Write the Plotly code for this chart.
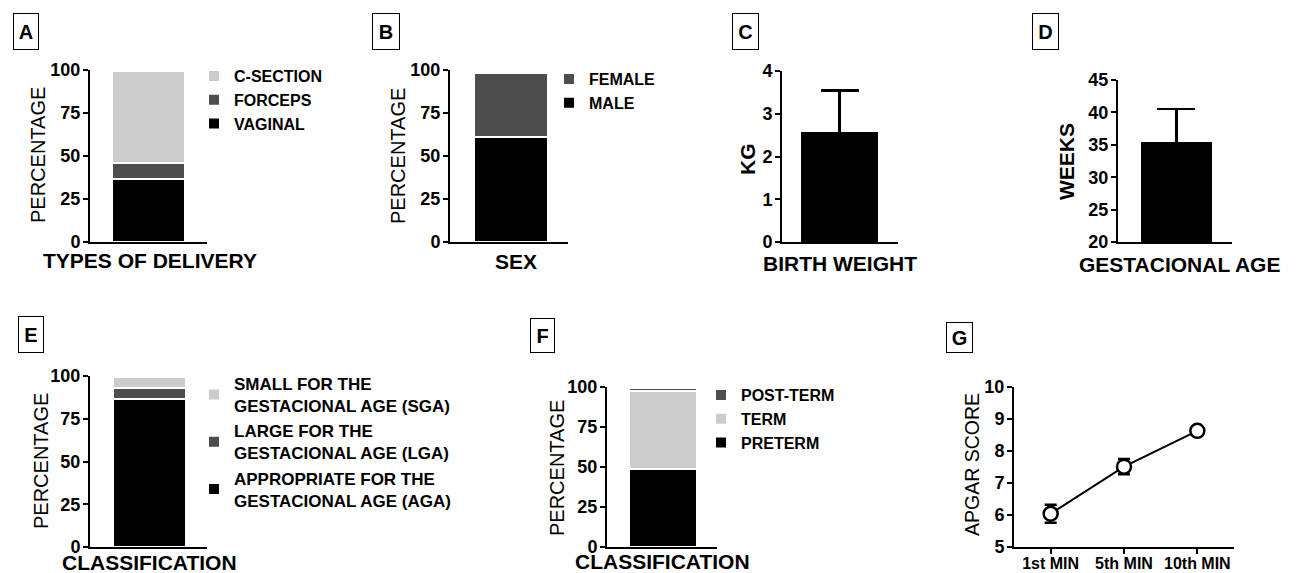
import plotly.graph_objects as go

W, H = 1307, 573

# ---------------- data ----------------
# A - types of delivery (%)
delivery_types = ["VAGINAL", "FORCEPS", "C-SECTION"]
delivery_pct = [36.4, 9.6, 53.4]
# B - sex (%)
sex_labels = ["MALE", "FEMALE"]
sex_pct = [61.3, 37.2]
# C - birth weight (kg)
birth_weight_mean = [2.56]
birth_weight_sd = [0.98]
# D - gestational age (weeks)
gest_age_mean = [35.3]
gest_age_sd = [5.2]
# E - size classification (%)
size_class = ["APPROPRIATE FOR THE<br>GESTACIONAL AGE (AGA)",
              "LARGE FOR THE<br>GESTACIONAL AGE (LGA)",
              "SMALL FOR THE<br>GESTACIONAL AGE (SGA)"]
size_pct = [86.3, 6.4, 6.9]
# F - term classification (%)
term_class = ["PRETERM", "TERM", "POST-TERM"]
term_pct = [48.6, 49.0, 1.6]
# G - APGAR score
apgar_times = ["1st MIN", "5th MIN", "10th MIN"]
apgar_mean = [6.04, 7.51, 8.63]
apgar_err = [0.28, 0.24, 0.05]

# tick values
pct_ticks = [0, 25, 50, 75, 100]
kg_ticks = [0, 1, 2, 3, 4]
week_ticks = [20, 25, 30, 35, 40, 45]
apgar_ticks = [5, 6, 7, 8, 9, 10]

BLACK, DARK, LIGHT = "#000000", "#4d4d4d", "#cccccc"
delivery_colors = [BLACK, DARK, LIGHT]
sex_colors = [BLACK, DARK]
size_colors = [BLACK, DARK, LIGHT]
term_colors = [BLACK, LIGHT, DARK]

FONT = "Liberation Sans, Arial, sans-serif"


def xd(a, b):
    return [a / W, b / W]


def yd(top, bottom):
    return [1 - bottom / H, 1 - top / H]


fig = go.Figure()


def stacked(names, vals, colors, ax, legend):
    for n, v, c in zip(names, vals, colors):
        fig.add_trace(go.Bar(
            x=[0], y=[v], width=[1.0], name=n,
            marker=dict(color=c, line=dict(color="white", width=2)),
            xaxis="x" + ax, yaxis="y" + ax, legend=legend,
            hovertemplate=n.replace("<br>", " ") + ": %{y}%<extra></extra>"))


stacked(delivery_types, delivery_pct, delivery_colors, "", "legend")
stacked(sex_labels, sex_pct, sex_colors, "2", "legend2")
stacked(size_class, size_pct, size_colors, "5", "legend3")
stacked(term_class, term_pct, term_colors, "6", "legend4")

fig.add_trace(go.Bar(
    x=[0], y=birth_weight_mean, width=[1.0], showlegend=False,
    marker=dict(color=BLACK, line=dict(color=BLACK, width=1)),
    error_y=dict(type="data", array=birth_weight_sd, color=BLACK,
                 thickness=2.5, width=19),
    xaxis="x3", yaxis="y3"))
fig.add_trace(go.Bar(
    x=[0], y=gest_age_mean, width=[1.0], showlegend=False,
    marker=dict(color=BLACK, line=dict(color=BLACK, width=1)),
    error_y=dict(type="data", array=gest_age_sd, color=BLACK,
                 thickness=2.5, width=19),
    xaxis="x4", yaxis="y4"))

fig.add_trace(go.Scatter(
    x=apgar_times, y=apgar_mean, mode="lines+markers", showlegend=False,
    line=dict(color=BLACK, width=2),
    marker=dict(symbol="circle", size=14, color="white",
                line=dict(color=BLACK, width=2.5)),
    error_y=dict(type="data", array=apgar_err, color=BLACK,
                 thickness=2.5, width=6),
    xaxis="x7", yaxis="y7"))

# ---------- axes ----------
common_y = dict(showline=True, linecolor="black", linewidth=2,
                ticks="outside", ticklen=5, tickwidth=2, tickcolor="black",
                showgrid=False, zeroline=False, fixedrange=True,
                tickmode="array", automargin=False, ticklabelstandoff=-1)
common_x = dict(showline=True, linecolor="black", linewidth=2,
                showgrid=False, zeroline=False, showticklabels=False,
                ticks="", fixedrange=True, automargin=False)


def btext(vals):
    return ["<b>%s</b>" % v for v in vals]


def yfont():
    return dict(family=FONT, size=18, color="black", weight="bold")


layout_axes = {}
panels = [
    ("", 90, 207, 70, 242, [-0.8, 0.8], [0, 100], pct_ticks),
    ("2", 450, 568, 70, 242, [-0.824, 0.770], [0, 100], pct_ticks),
    ("3", 782, 898, 71, 242, [-0.747, 0.760], [0, 4], kg_ticks),
    ("4", 1118, 1232, 80, 242, [-0.824, 0.782], [20, 45], week_ticks),
    ("5", 90, 207, 376, 547, [-0.815, 0.788], [0, 100], pct_ticks),
    ("6", 607, 717, 387, 547, [-0.824, 0.794], [0, 100], pct_ticks),
]
for s, xl, xr, yt, yb, xrg, yrg, tv in panels:
    layout_axes["xaxis" + s] = dict(common_x, domain=xd(xl, xr), range=xrg,
                                    anchor="y" + s)
    layout_axes["yaxis" + s] = dict(common_y, domain=yd(yt, yb), range=yrg,
                                    tickvals=tv, ticktext=btext(tv),
                                    tickfont=yfont(), anchor="x" + s)

layout_axes["xaxis7"] = dict(common_x, domain=xd(1014, 1234), range=[-0.5, 2.5],
                             anchor="y7", showticklabels=True, ticks="outside",
                             ticklen=5, tickwidth=2, tickcolor="black",
                             type="category", tickmode="array", tickangle=0,
                             ticklabelstandoff=-4,
                             tickvals=apgar_times, ticktext=btext(apgar_times),
                             tickfont=dict(family=FONT, size=16, color="black",
                                           weight="bold"))
layout_axes["yaxis7"] = dict(common_y, domain=yd(387, 547), range=[5, 10],
                             tickvals=apgar_ticks, ticktext=btext(apgar_ticks),
                             tickfont=yfont(), anchor="x7")

# ---------- annotations (titles and panel letters) ----------
ann = []


def text(t, x, y, size, bold, angle=0):
    ann.append(dict(text=t, x=x / W, y=1 - y / H, xref="paper", yref="paper",
                    showarrow=False, textangle=angle, xanchor="center",
                    yanchor="middle",
                    font=dict(family=FONT, size=size, color="black",
                              weight="bold" if bold else "normal")))


def letter(t, x0, x1, y0, y1):
    ann.append(dict(text=t, x=(x0 + x1) / 2 / W, y=1 - (y0 + y1) / 2 / H,
                    xref="paper", yref="paper", showarrow=False,
                    xanchor="center", yanchor="middle",
                    width=x1 - x0 - 2, height=y1 - y0 - 2,
                    bordercolor="black", borderwidth=1, borderpad=0,
                    font=dict(family=FONT, size=20, color="black",
                              weight="bold")))


letter("A", 13, 39, 13, 50)
letter("B", 372, 400, 13, 50)
letter("C", 732, 759, 13, 50)
letter("D", 1032, 1059, 13, 50)
letter("E", 18, 44, 316, 353)
letter("F", 530, 555, 318, 353)
letter("G", 946, 973, 322, 353)

text("PERCENTAGE", 38, 155, 20, False, -90)
text("TYPES OF DELIVERY", 150, 260, 21, True)
text("PERCENTAGE", 398, 156, 20, False, -90)
text("SEX", 516, 261, 21, True)
text("KG", 747, 159, 21, True, -90)
text("BIRTH WEIGHT", 840, 263, 21, True)
text("WEEKS", 1067, 162, 21, True, -90)
text("GESTACIONAL AGE", 1179, 264, 21, True)
text("PERCENTAGE", 41, 461, 20, False, -90)
text("CLASSIFICATION", 149, 562, 21, True)
text("PERCENTAGE", 557, 468, 20, False, -90)
text("CLASSIFICATION", 662, 561, 21, True)
text("APGAR SCORE", 972, 465, 19.5, False, -90)


def leg(x, y, size):
    return dict(x=x / W, y=1 - y / H, xanchor="left", yanchor="top",
                traceorder="reversed",
                font=dict(family=FONT, size=size, color="black", weight="bold"),
                bgcolor="rgba(0,0,0,0)",
                borderwidth=0, itemclick=False, itemdoubleclick=False)


fig.update_layout(
    template="none",
    width=W, height=H, margin=dict(l=0, r=0, t=0, b=0, pad=0),
    paper_bgcolor="white", plot_bgcolor="white",
    barmode="stack", showlegend=True,
    font=dict(family=FONT, color="black"),
    annotations=ann,
    legend=leg(194, 59, 16),
    legend2=leg(549, 62, 16),
    legend3=leg(194, 366, 17),
    legend4=leg(701, 378, 16),
    **layout_axes,
)

fig.write_html("out.html", config={"displayModeBar": False},
               post_script="document.body.style.margin='0';")
